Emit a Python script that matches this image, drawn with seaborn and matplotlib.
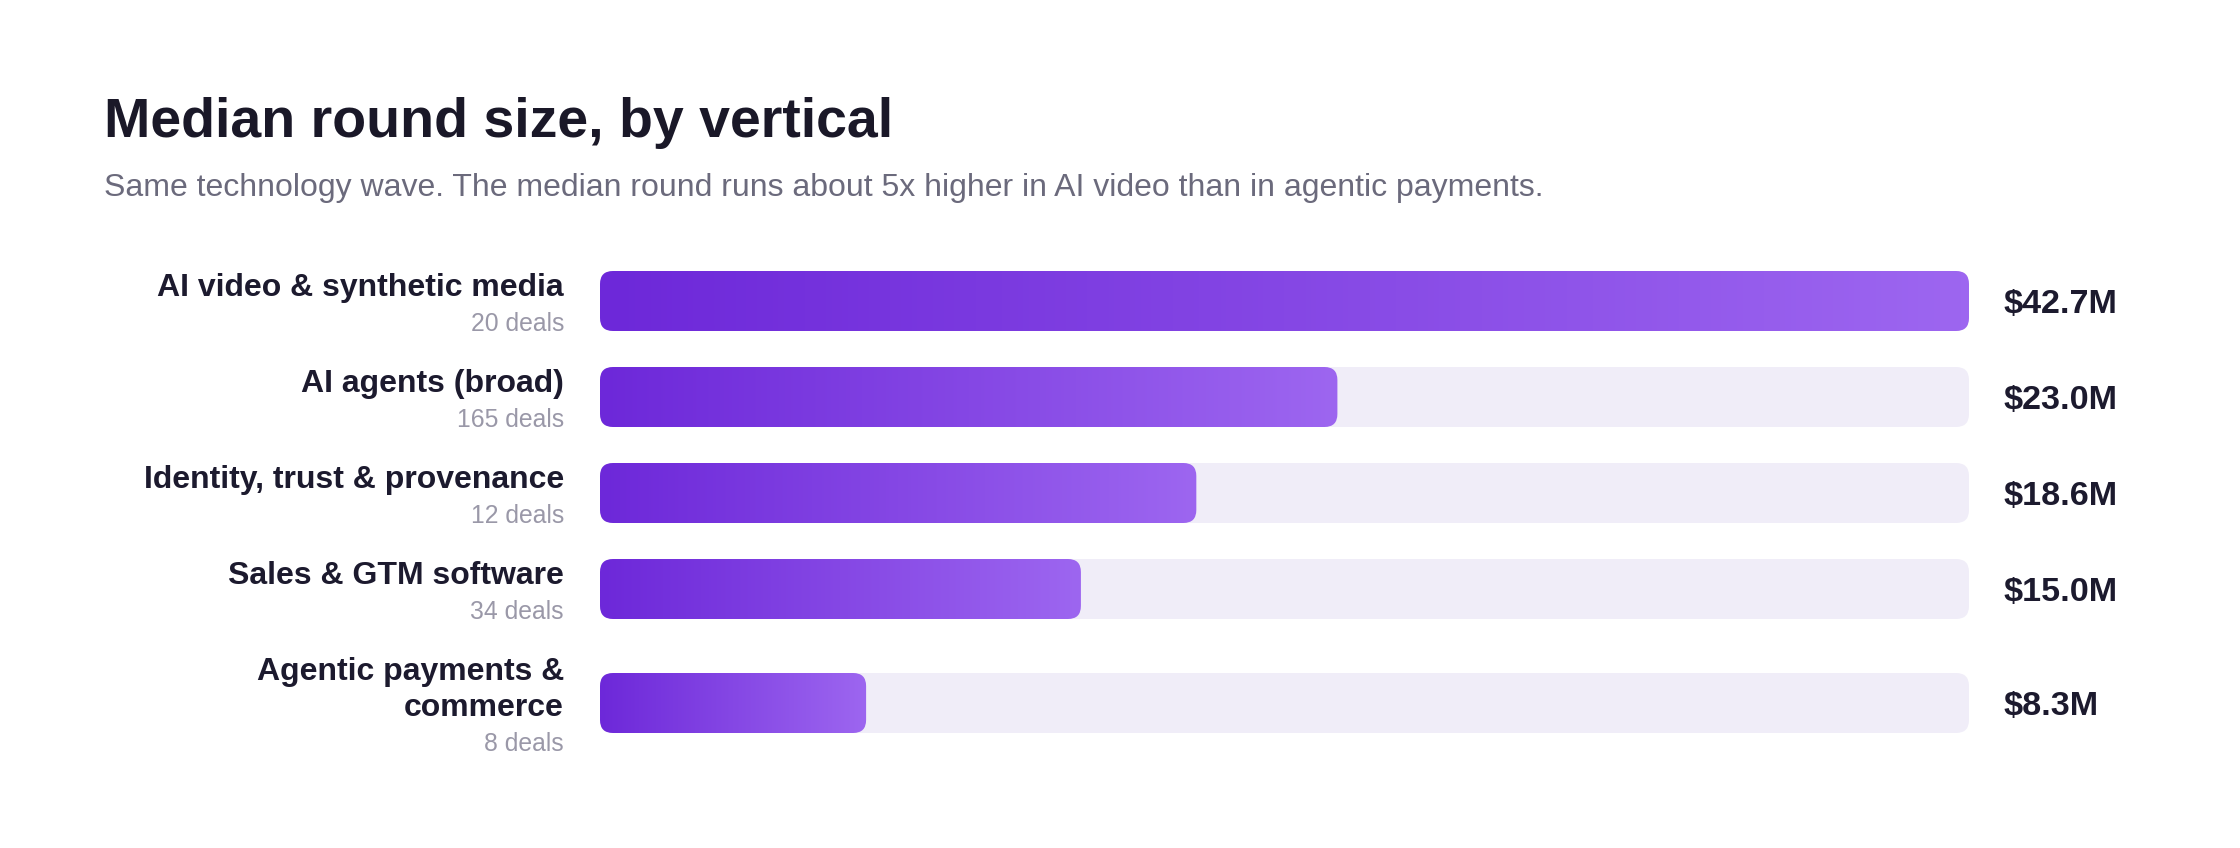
import matplotlib
matplotlib.use('Agg')
import matplotlib.pyplot as plt
import numpy as np
import pandas as pd
import seaborn as sns
from matplotlib.colors import LinearSegmentedColormap
from matplotlib.patches import FancyBboxPatch

# data
verticals = ['AI video & synthetic media', 'AI agents (broad)',
             'Identity, trust & provenance', 'Sales & GTM software',
             'Agentic payments &\ncommerce']
deals = [20, 165, 12, 34, 8]
median_m = [42.7, 23.0, 18.6, 15.0, 8.3]

title = 'Median round size, by vertical'
subtitle = ('Same technology wave. The median round runs about 5x higher '
            'in AI video than in agentic payments.')

W, H, DPI = 2240, 848, 200
sns.set_theme(style='white')
plt.rcParams['font.family'] = ['Liberation Sans', 'DejaVu Sans']

dark = '#1c1a2e'
grey = '#6b6a7c'
light_grey = '#9a98a8'
track_col = '#f0edf8'
grad = LinearSegmentedColormap.from_list('grad', ['#6d28d9', '#9d66f0'])

# row positions (wrapped labels make a row taller)
n_lines = [v.count('\n') + 1 for v in verticals]
pos = []
y = 0.0
for i, n in enumerate(n_lines):
    if i > 0:
        y += 1.0 + 0.1875 * (n_lines[i - 1] - 1) + 0.1875 * (n - 1)
    pos.append(y)

row_px = 96
top_px = 301 - row_px / 2
bottom = pos[-1] + 0.5
h_px = (bottom + 0.5) * row_px
left_px, width_px = 600, 1369

fig = plt.figure(figsize=(W / DPI, H / DPI), dpi=DPI)
ax = fig.add_axes([left_px / W, 1 - (top_px + h_px) / H, width_px / W, h_px / H])

vmax = max(median_m)
df = pd.DataFrame({'vertical': verticals, 'pos': pos,
                   'median': median_m, 'track': [vmax] * len(pos)})

sns.barplot(data=df, x='track', y='pos', orient='h', native_scale=True,
            width=0.625, color=track_col, errorbar=None, ax=ax)
sns.barplot(data=df, x='median', y='pos', orient='h', native_scale=True,
            width=0.625, color='#7c3aed', errorbar=None, ax=ax)

ax.set_xlim(0, vmax)
ax.set_ylim(bottom, -0.5)
ax.axis('off')

# swap the square bars for rounded ones (gradient fill on the value bars)
ppx = width_px / vmax
ppy = row_px
r_px = 13
n = len(verticals)
geo = [(p.get_x(), p.get_y(), p.get_width(), p.get_height()) for p in ax.patches]
for p in list(ax.patches):
    p.remove()

for k, (x0, y0, w, h) in enumerate(geo):
    box = FancyBboxPatch((x0, y0), w, h,
                         boxstyle=f'round,pad=0,rounding_size={r_px / ppx}',
                         mutation_aspect=ppx / ppy, linewidth=0,
                         facecolor=track_col if k < n else 'none',
                         zorder=1 if k < n else 3)
    ax.add_patch(box)
    if k >= n:
        im = ax.imshow(np.linspace(0, 1, 256)[None, :], cmap=grad,
                       extent=(x0, x0 + w, y0 + h, y0), aspect='auto',
                       zorder=2, interpolation='bilinear')
        im.set_clip_path(box)

ax.set_xlim(0, vmax)
ax.set_ylim(bottom, -0.5)

# labels left of bars, values right of track
for i in range(n):
    lines = verticals[i].split('\n') + [f'{deals[i]} deals']
    N = len(lines)
    for j, line in enumerate(lines):
        off = (j - (N - 1) / 2) * 36 + 5
        is_deal = j == N - 1
        ax.annotate(line, xy=(0, pos[i]), xycoords='data',
                    xytext=(-36, -off), textcoords='offset pixels',
                    ha='right', va='center',
                    fontsize=8.9 if is_deal else 11.5,
                    fontweight='normal' if is_deal else 'bold',
                    color=light_grey if is_deal else dark,
                    annotation_clip=False)
    ax.annotate(f'${median_m[i]:.1f}M', xy=(vmax, pos[i]), xycoords='data',
                xytext=(35, 0), textcoords='offset pixels',
                ha='left', va='center_baseline', fontsize=12.3,
                fontweight='bold', color=dark, annotation_clip=False)

fig.text(104 / W, 1 - 137 / H, title, fontsize=20, fontweight='bold',
         color='#1a1828', va='baseline', ha='left')
fig.text(104 / W, 1 - 196 / H, subtitle, fontsize=11.5, color=grey,
         va='baseline', ha='left')

fig.savefig('out.png', dpi=DPI, facecolor='white')
